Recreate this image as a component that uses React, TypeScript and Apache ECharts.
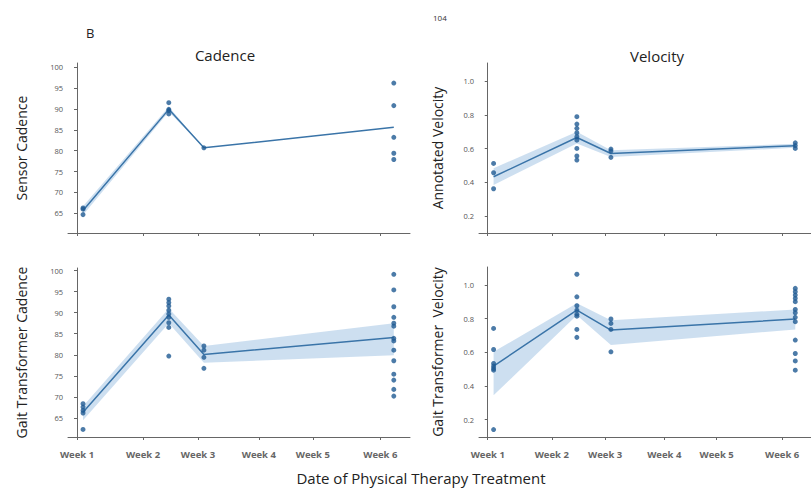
import React, { useEffect, useRef } from "react";
import * as echarts from "echarts";

// x positions (in days) of the week ticks and of the four measurement dates
const tickDays = [0, 7.33, 13.44, 20.2, 26.2, 33.7];
const tickLabels = ["Week 1", "Week 2", "Week 3", "Week 4", "Week 5", "Week 6"];
const weekDays = [0.67, 10.2, 14.1, 35.2];

const cadenceTicks = [65, 70, 75, 80, 85, 90, 95, 100];
const velocityTicks = [0.2, 0.4, 0.6, 0.8, 1.0];

// Sensor Cadence
const sensorCadencePoints = [
  [66.3, 66.0, 64.7],
  [91.5, 89.9, 89.6, 88.8],
  [80.7],
  [96.2, 90.8, 83.2, 79.4, 77.9],
];
const sensorCadenceMean = [65.7, 89.9, 80.7, 85.6];
const sensorCadenceLow = [64.6, 89.3, 80.7, 85.6];
const sensorCadenceHigh = [66.7, 90.5, 80.7, 85.6];

// Annotated Velocity
const annotVelocityPoints = [
  [0.512, 0.457, 0.362],
  [0.789, 0.745, 0.72, 0.694, 0.67, 0.65, 0.601, 0.556, 0.532],
  [0.597, 0.585, 0.548],
  [0.634, 0.618, 0.601],
];
const annotVelocityMean = [0.433, 0.666, 0.571, 0.617];
const annotVelocityLow = [0.384, 0.63, 0.55, 0.605];
const annotVelocityHigh = [0.483, 0.7, 0.59, 0.628];

// Gait Transformer Cadence
const gaitCadencePoints = [
  [68.4, 67.6, 66.8, 66.2, 62.3],
  [93.2, 92.4, 91.6, 90.6, 89.7, 88.9, 87.6, 86.5, 79.7],
  [82.1, 81.1, 79.4, 76.8],
  [99.1, 95.4, 91.4, 88.9, 87.5, 86.8, 83.9, 83.3, 81.1, 78.6, 75.4, 74.0, 71.8, 70.2],
];
const gaitCadenceMean = [66.4, 89.45, 80.1, 84.1];
const gaitCadenceLow = [64.5, 87.5, 78.1, 79.9];
const gaitCadenceHigh = [67.8, 91.0, 82.1, 87.5];

// Gait Transformer Velocity
const gaitVelocityPoints = [
  [0.742, 0.617, 0.534, 0.518, 0.504, 0.494, 0.141],
  [1.064, 0.93, 0.877, 0.851, 0.827, 0.815, 0.736, 0.689],
  [0.798, 0.772, 0.736, 0.603],
  [0.98, 0.96, 0.94, 0.921, 0.901, 0.855, 0.835, 0.808, 0.782, 0.673, 0.593, 0.549, 0.494],
];
const gaitVelocityMean = [0.518, 0.851, 0.732, 0.798];
const gaitVelocityLow = [0.345, 0.82, 0.643, 0.736];
const gaitVelocityHigh = [0.603, 0.891, 0.79, 0.855];

const FONT = "Open Sans";
const LINE_COLOR = "#3a74a8";
const DOT_COLOR = "#1f5a92";
const BAND_COLOR = "rgba(74,140,200,0.28)";
const AXIS_COLOR = "#666";

type Panel = {
  points: number[][];
  mean: number[];
  low: number[];
  high: number[];
};

const panels: Panel[] = [
  { points: sensorCadencePoints, mean: sensorCadenceMean, low: sensorCadenceLow, high: sensorCadenceHigh },
  { points: annotVelocityPoints, mean: annotVelocityMean, low: annotVelocityLow, high: annotVelocityHigh },
  { points: gaitCadencePoints, mean: gaitCadenceMean, low: gaitCadenceLow, high: gaitCadenceHigh },
  { points: gaitVelocityPoints, mean: gaitVelocityMean, low: gaitVelocityLow, high: gaitVelocityHigh },
];

export default function App() {
  const ref = useRef<HTMLDivElement>(null);

  useEffect(() => {
    if (!ref.current) return;
    const chart = echarts.init(ref.current, null, { renderer: "svg" });

    const grids = [
      { left: 68, top: 63, width: 342, height: 170 },
      { left: 479, top: 63, width: 342, height: 170 },
      { left: 68, top: 268, width: 342, height: 169 },
      { left: 479, top: 267, width: 342, height: 170 },
    ];

    const xAxes = grids.map((_, i) => ({
      type: "value",
      gridIndex: i,
      min: -1,
      max: 37,
      splitLine: { show: false },
      axisLine: { show: true, lineStyle: { color: AXIS_COLOR, width: 1 } },
      axisTick: {
        show: true,
        length: 3,
        lineStyle: { color: AXIS_COLOR },
        customValues: tickDays,
      },
      axisLabel: {
        show: i >= 2,
        customValues: tickDays,
        margin: 12,
        fontFamily: FONT,
        fontSize: 9.5,
        fontWeight: "bold",
        color: "#666",
        formatter: (v: number) => {
          let best = 0;
          tickDays.forEach((t, k) => {
            if (Math.abs(t - v) < Math.abs(tickDays[best] - v)) best = k;
          });
          return tickLabels[best];
        },
      },
    }));

    const yNames = ["Sensor Cadence", "Annotated Velocity", "Gait Transformer Cadence", "Gait Transformer  Velocity"];
    const yRanges = [
      [60.3, 101],
      [0.1, 1.107],
      [60.5, 100.6],
      [0.097, 1.107],
    ];
    const yAxes = grids.map((_, i) => {
      const isCad = i % 2 === 0;
      const ticks = isCad ? cadenceTicks : velocityTicks;
      return {
        type: "value",
        gridIndex: i,
        min: yRanges[i][0],
        max: yRanges[i][1],
        splitLine: { show: false },
        axisLine: { show: true, lineStyle: { color: AXIS_COLOR, width: 1 } },
        axisTick: { show: true, length: 3, lineStyle: { color: AXIS_COLOR }, customValues: ticks },
        axisLabel: {
          customValues: ticks,
          margin: 5,
          fontFamily: FONT,
          fontSize: 7.5,
          color: "#555",
          formatter: (v: number) => (isCad ? String(Math.round(v)) : v.toFixed(1)),
        },
        name: yNames[i],
        nameLocation: "middle",
        nameRotate: 90,
        nameGap: isCad ? 40 : 35,
        nameTextStyle: { fontFamily: FONT, fontSize: 14, color: "#222" },
      };
    });

    const series: any[] = [];
    panels.forEach((p, i) => {
      series.push({
        type: "custom",
        xAxisIndex: i,
        yAxisIndex: i,
        silent: true,
        z: 1,
        data: [[weekDays[0], p.low[0]]],
        renderItem: (_params: any, api: any) => {
          const top = weekDays.map((x, k) => api.coord([x, p.high[k]]));
          const bot = weekDays.map((x, k) => api.coord([x, p.low[k]])).reverse();
          return {
            type: "polygon",
            shape: { points: [...top, ...bot] },
            style: { fill: BAND_COLOR, stroke: "none" },
          };
        },
      });
      series.push({
        type: "line",
        xAxisIndex: i,
        yAxisIndex: i,
        z: 2,
        symbol: "none",
        lineStyle: { color: LINE_COLOR, width: 1.5 },
        data: weekDays.map((x, k) => [x, p.mean[k]]),
      });
      const pts: number[][] = [];
      p.points.forEach((vals, k) => vals.forEach((v) => pts.push([weekDays[k], v])));
      series.push({
        type: "scatter",
        xAxisIndex: i,
        yAxisIndex: i,
        z: 3,
        symbolSize: 5,
        itemStyle: { color: DOT_COLOR },
        data: pts,
      });
    });

    chart.setOption({
      animation: false,
      backgroundColor: "#fff",
      grid: grids,
      xAxis: xAxes,
      yAxis: yAxes,
      series,
      graphic: [
        { type: "text", left: 86, top: 26, style: { text: "B", fontFamily: FONT, fontSize: 13, fill: "#222" } },
        { type: "text", left: 433, top: 13, style: { text: "104", fontFamily: FONT, fontSize: 8, fill: "#333" } },
        {
          type: "text",
          x: 225,
          y: 55,
          style: { text: "Cadence", fontFamily: FONT, fontSize: 15, fill: "#222", align: "center", verticalAlign: "middle" },
        },
        {
          type: "text",
          x: 657,
          y: 56,
          style: { text: "Velocity", fontFamily: FONT, fontSize: 15, fill: "#222", align: "center", verticalAlign: "middle" },
        },
        {
          type: "text",
          x: 421,
          y: 478,
          style: {
            text: "Date of Physical Therapy Treatment",
            fontFamily: FONT,
            fontSize: 15,
            fill: "#222",
            align: "center",
            verticalAlign: "middle",
          },
        },
      ],
    });

    return () => chart.dispose();
  }, []);

  return <div ref={ref} style={{ position: "fixed", left: 0, top: 0, width: 811, height: 489 }} />;
}
